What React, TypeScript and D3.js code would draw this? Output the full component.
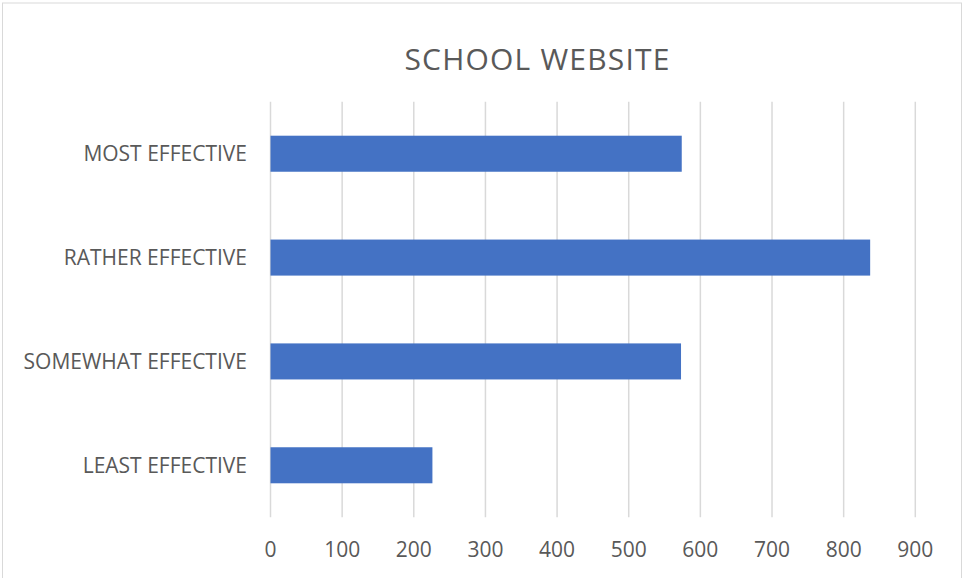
import React from "react";
import * as d3 from "d3";

const categories = ["MOST EFFECTIVE", "RATHER EFFECTIVE", "SOMEWHAT EFFECTIVE", "LEAST EFFECTIVE"];
const values = [574, 837, 573, 226];
const xTicks = [0, 100, 200, 300, 400, 500, 600, 700, 800, 900];
const title = "SCHOOL WEBSITE";

const W = 963;
const H = 578;
const FONT = "'Open Sans', 'DejaVu Sans', sans-serif";
const TEXT = "#595959";

export default function App() {
  const x = d3.scaleLinear().domain([0, 900]).range([270.5, 915.3]);
  const y = d3.scaleBand<string>().domain(categories).range([101.8, 517.2]).paddingInner(0.653).paddingOuter(0.3265);
  const bw = y.bandwidth();

  return (
    <svg width={W} height={H} style={{ position: "absolute", left: 0, top: 0, background: "#fff" }}>
      <rect x={2.5} y={3} width={959} height={H + 10} fill="#fff" stroke="#d9d9d9" strokeWidth={1} />
      <text x={537.5} y={70} textAnchor="middle" fontFamily={FONT} fontSize={30} letterSpacing={1.2} fill={TEXT}>
        {title}
      </text>
      {xTicks.map((t) => (
        <line key={"g" + t} x1={x(t)} x2={x(t)} y1={101.8} y2={517.2} stroke="#d9d9d9" strokeWidth={1.5} />
      ))}
      {categories.map((c, i) => (
        <rect key={c} x={x(0)} y={y(c)} width={x(values[i]) - x(0)} height={bw} fill="#4472C4" />
      ))}
      {categories.map((c) => (
        <text key={"l" + c} x={247} y={(y(c) as number) + bw / 2 + 7.5} textAnchor="end" fontFamily={FONT} fontSize={21} fill={TEXT}>
          {c}
        </text>
      ))}
      {xTicks.map((t) => (
        <text key={"t" + t} x={x(t)} y={556.5} textAnchor="middle" fontFamily={FONT} fontSize={21} fill={TEXT}>
          {d3.format("d")(t)}
        </text>
      ))}
    </svg>
  );
}
